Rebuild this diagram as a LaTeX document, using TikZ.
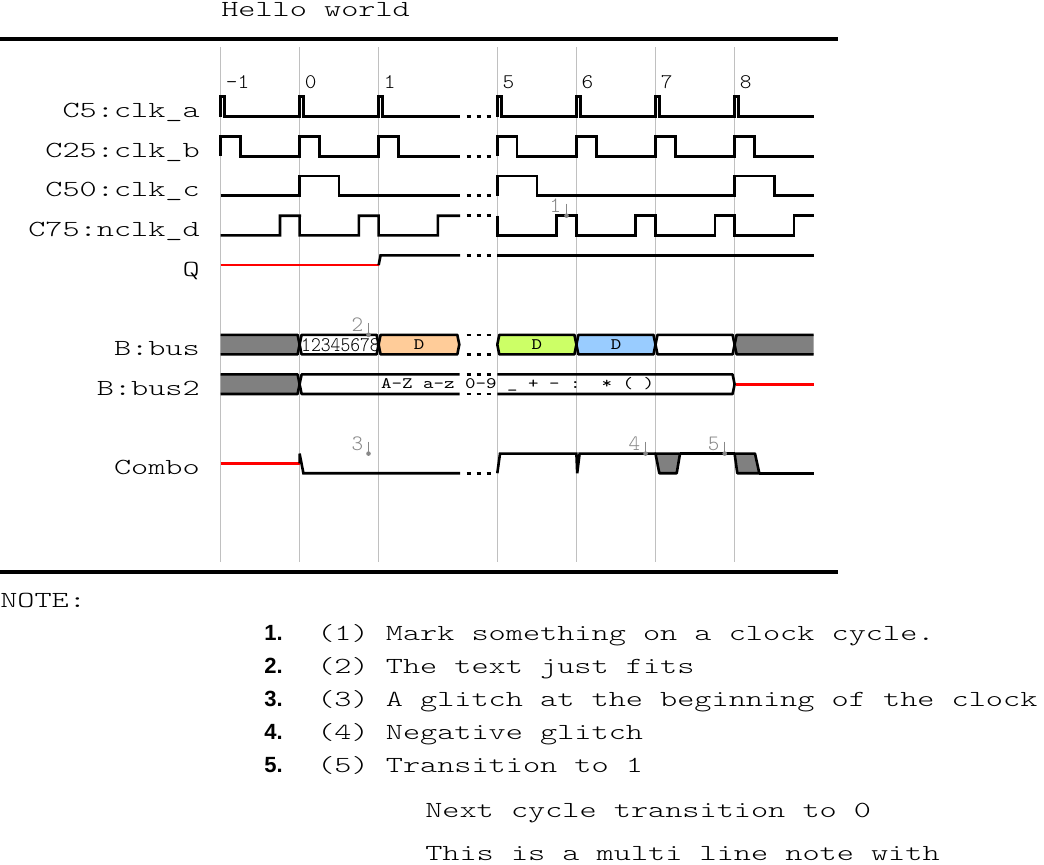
\documentclass[tikz,border=0pt]{standalone}
\usepackage{fontspec}
\newfontfamily\lblf{lmmonolt10-regular.otf}[FakeStretch=1.42]
\newfontfamily\tickf{lmmonolt10-regular.otf}[FakeStretch=1.07]
\newfontfamily\busf{lmmono10-regular.otf}[FakeStretch=1.25]
\newfontfamily\numf{lmmonolt10-regular.otf}[FakeStretch=0.9]
\newfontfamily\mkf{lmmonolt10-regular.otf}
\newfontfamily\itemf{Liberation Sans}
\definecolor{xgray}{RGB}{128,128,128}
\definecolor{dorange}{RGB}{255,204,153}
\definecolor{dgreen}{RGB}{204,255,102}
\definecolor{dblue}{RGB}{153,204,255}
\definecolor{mkgray}{RGB}{136,136,136}
\definecolor{gridgray}{RGB}{192,192,192}
\newcommand\wbusseg[4]{%
  \filldraw[busln,fill=#4] (#1,#3) -- ({#1+2},{#3-9.8}) -- ({#2-2},{#3-9.8}) -- (#2,#3) -- ({#2-2},{#3+9.8}) -- ({#1+2},{#3+9.8}) -- cycle;}
\newcommand\wmarker[4]{%
  \fill[mkgray] (#1,#2) circle (2.3);
  \draw[mkgray,line width=0.9pt] (#1,{#2-12}) -- (#1,#2);
  \node[mklbl,anchor=base east] (#4) at ({#1-5},{#2-3}) {#3};}
\begin{document}
\begin{tikzpicture}[x=0.75pt,y=-0.75pt,
  sig/.style={line width=1.95pt,line join=miter},
  zsig/.style={sig,red},
  dots/.style={sig,dash pattern=on 3pt off 4.5pt},
  busln/.style={line width=1.95pt,line join=round},
  gridl/.style={line width=0.75pt,gridgray},
  rulel/.style={line width=2.4pt},
  lbl/.style={font=\lblf\fontsize{17.25pt}{20pt}\selectfont,inner sep=0pt},
  tick/.style={font=\tickf\fontsize{15.6pt}{18pt}\selectfont,inner sep=0pt,anchor=base west},
  bustxt/.style={font=\busf\fontsize{12pt}{14pt}\selectfont,inner sep=0pt},
  mklbl/.style={font=\mkf\fontsize{16.5pt}{18pt}\selectfont,inner sep=0pt,mkgray},
  itemnum/.style={font=\itemf\bfseries\fontsize{16.5pt}{18pt}\selectfont,inner sep=0pt,anchor=base east},
]
\useasboundingbox (0,0) rectangle (1044,864);

% title and rules
\node[lbl,anchor=base west] (title) at (221,16.7) {Hello world};
\draw[rulel] (0,39) -- (838,39);
\draw[rulel] (0,572) -- (838,572);

% grid
\foreach \x in {220.7,299.6,378.6,497.3,576.4,655.5,734.6}
  \draw[gridl] (\x,47) -- (\x,562);

% tick labels
\foreach \x/\t [count=\i] in {220.7/-1,299.6/0,378.6/1,497.3/5,576.4/6,655.5/7,734.6/8}
  \node[tick] (tk\i) at ({\x+5},88.3) {\t};

% signal labels
\foreach \t/\y [count=\i] in {C5:clk\_a/106.5,C25:clk\_b/146.2,C50:clk\_c/185.8,C75:nclk\_d/225.5,Q/265.1,B:bus/344.6,B:bus2/384.2,Combo/463.4}
  \node[lbl,anchor=base east] (lb\i) at (200,{\y+11}) {\t};

% clk_a (5%)
\draw[sig] (220.7,116.5) \foreach \x in {220.7,299.6,378.6} { -- (\x,116.5) -- (\x,96.5) -- ({\x+4},96.5) -- ({\x+4},116.5) } -- (460,116.5);
\draw[dots] (466.7,116.5) -- (490.7,116.5);
\draw[sig] (497.3,116.5) \foreach \x in {497.3,576.4,655.5,734.6} { -- (\x,116.5) -- (\x,96.5) -- ({\x+4},96.5) -- ({\x+4},116.5) } -- (813.7,116.5);

% clk_b (25%)
\draw[sig] (220.7,156.2) \foreach \x in {220.7,299.6,378.6} { -- (\x,156.2) -- (\x,136.6) -- ({\x+19.8},136.6) -- ({\x+19.8},156.2) } -- (460,156.2);
\draw[dots] (466.7,156.2) -- (490.7,156.2);
\draw[sig] (497.3,156.2) \foreach \x in {497.3,576.4,655.5,734.6} { -- (\x,156.2) -- (\x,136.6) -- ({\x+19.8},136.6) -- ({\x+19.8},156.2) } -- (813.7,156.2);

% clk_c (50%)
\draw[sig] (220.7,195.6) -- (299.6,195.6) -- (299.6,176) -- (339.1,176) -- (339.1,195.6) -- (460,195.6);
\draw[dots] (466.7,195.6) -- (490.7,195.6);
\draw[sig] (497.3,195.6) -- (497.3,176) -- (536.9,176) -- (536.9,195.6) -- (734.6,195.6) -- (734.6,176) -- (774.2,176) -- (774.2,195.6) -- (813.7,195.6);

% nclk_d (75%)
\draw[sig] (220.7,235.3) \foreach \x in {220.7,299.6} { -- (\x,235.3) -- ({\x+59.3},235.3) -- ({\x+59.3},215.7) -- ({\x+79},215.7) } -- (378.6,235.3) -- (437.9,235.3) -- (437.9,215.7) -- (460,215.7);
\draw[dots] (466.7,215.7) -- (490.7,215.7);
\draw[sig] (497.3,215.7) \foreach \x in {497.3,576.4,655.5,734.6} { -- (\x,215.7) -- (\x,235.3) -- ({\x+59.3},235.3) -- ({\x+59.3},215.7) } -- (813.7,215.7);

% Q
\draw[zsig] (220.7,265.1) -- (378.6,265.1);
\draw[sig] (378.6,265.1) -- (380.6,255.3) -- (460,255.3);
\draw[dots] (466.7,255.3) -- (490.7,255.3);
\draw[sig] (497.3,255.3) -- (813.7,255.3);

% B:bus
\fill[xgray] (220.7,334.8) -- (297.6,334.8) -- (299.6,344.6) -- (297.6,354.4) -- (220.7,354.4) -- cycle;
\draw[busln] (220.7,334.8) -- (297.6,334.8) -- (299.6,344.6) -- (297.6,354.4) -- (220.7,354.4);
\wbusseg{299.6}{378.6}{344.6}{white}
\node[font=\numf\fontsize{15.6pt}{18pt}\selectfont,inner sep=0pt] (bus1) at (340.5,344.6) {12345678};
\wbusseg{378.6}{459.3}{344.6}{dorange}
\node[bustxt] (bus2) at (419,344.6) {D};
\draw[dots] (466.7,334.8) -- (490.7,334.8);
\draw[dots] (466.7,354.4) -- (490.7,354.4);
\wbusseg{497.3}{576.4}{344.6}{dgreen}
\node[bustxt] (bus3) at (536.9,344.6) {D};
\wbusseg{576.4}{655.5}{344.6}{dblue}
\node[bustxt] (bus4) at (616,344.6) {D};
\wbusseg{655.5}{734.6}{344.6}{white}
\fill[xgray] (813.7,334.8) -- (736.6,334.8) -- (734.6,344.6) -- (736.6,354.4) -- (813.7,354.4) -- cycle;
\draw[busln] (813.7,334.8) -- (736.6,334.8) -- (734.6,344.6) -- (736.6,354.4) -- (813.7,354.4);

% B:bus2
\fill[xgray] (220.7,374.4) -- (297.6,374.4) -- (299.6,384.2) -- (297.6,394) -- (220.7,394) -- cycle;
\draw[busln] (220.7,374.4) -- (297.6,374.4) -- (299.6,384.2) -- (297.6,394) -- (220.7,394);
\draw[busln] (459.6,374.4) -- (301.6,374.4) -- (299.6,384.2) -- (301.6,394) -- (459.6,394);
\draw[dots] (466.7,374.4) -- (490.7,374.4);
\draw[dots] (466.7,394) -- (490.7,394);
\draw[busln] (497.3,374.4) -- (732.6,374.4) -- (734.6,384.2) -- (732.6,394) -- (497.3,394);
\node[bustxt] (bus2txt) at (517.5,384.2) {A-Z a-z 0-9 \_ + - :\ \ * ( )};
\draw[zsig] (735.6,384.2) -- (813.7,384.2);

% Combo
\draw[zsig] (220.7,463.4) -- (299.6,463.4);
\draw[sig] (299.6,463.4) -- (299.6,453.6) -- (303.4,473.2) -- (460,473.2);
\draw[dots] (466.7,473.2) -- (490.7,473.2);
\draw[sig] (497.3,473.2) -- (500,453.6) -- (576.4,453.6) -- (577.2,473.2) -- (579.6,453.6) -- (655.5,453.6);
\filldraw[sig,line join=round,fill=xgray] (655.5,453.6) -- (680,453.6) -- (676.7,473.2) -- (659.3,473.2) -- cycle;
\draw[sig] (680,453.6) -- (734.6,453.6);
\filldraw[sig,line join=round,fill=xgray] (734.6,453.6) -- (755,453.6) -- (759.3,473.2) -- (737.3,473.2) -- cycle;
\draw[sig] (759.3,473.2) -- (813.7,473.2);

% markers
\wmarker{566.5}{215.7}{1}{m1}
\wmarker{368.5}{334.8}{2}{m2}
\wmarker{368.5}{453.6}{3}{m3}
\wmarker{645.5}{453.6}{4}{m4}
\wmarker{724.7}{453.6}{5}{m5}

% notes
\node[lbl,anchor=base west] (note) at (0,607) {NOTE:};
\foreach \t/\y [count=\i] in {{(1) Mark something on a clock cycle.}/640,{(2) The text just fits}/673,{(3) A glitch at the beginning of the clock}/706,{(4) Negative glitch}/739,{(5) Transition to 1}/772}{
  \node[itemnum] (n\i) at (283,\y) {\i.};
  \node[lbl,anchor=base west] (t\i) at (317,\y) {\t};
}
\node[lbl,anchor=base west] (t6) at (425,817) {Next cycle transition to 0};
\node[lbl,anchor=base west] (t7) at (425,860.5) {This is a multi line note with};
\end{tikzpicture}
\end{document}
